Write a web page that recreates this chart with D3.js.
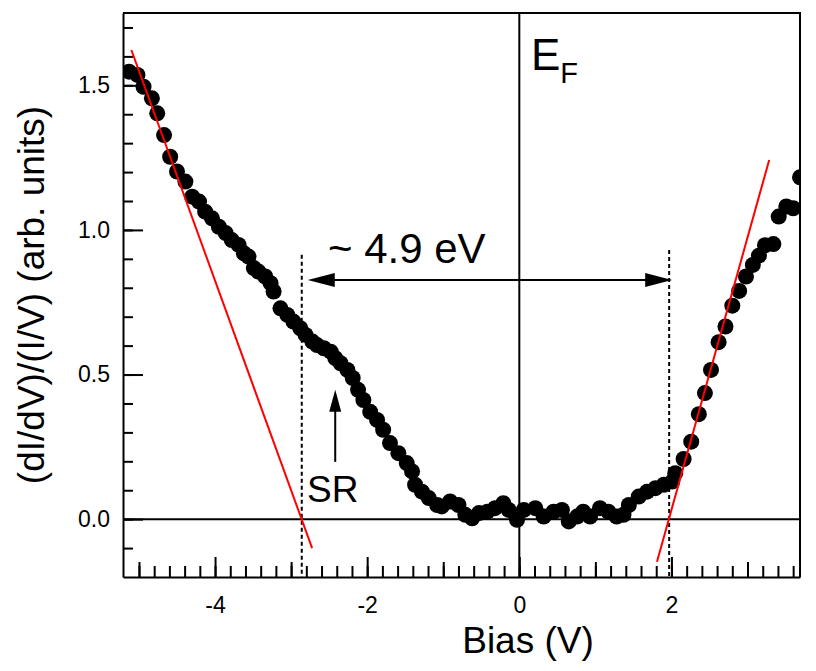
<!DOCTYPE html>
<html>
<head>
<meta charset="utf-8">
<script src="https://cdn.jsdelivr.net/npm/d3@7"></script>
<style>
  body { margin: 0; background: #fff; }
  svg text { font-family: "Liberation Sans", Arial, sans-serif; fill: #000; }
  .axis path { stroke: #000; stroke-width: 2; }
  .axis line { stroke: #000; stroke-width: 2; }
  .axis text { font-size: 23px; }
</style>
</head>
<body>
<div id="chart"></div>
<script>
// measured points, bias (V) and normalized conductance
const biasV = [-5.13, -5.02, -4.94, -4.83, -4.76, -4.67, -4.59, -4.50, -4.39, -4.30,
  -4.21, -4.13, -4.04, -3.95, -3.86, -3.78, -3.69, -3.62, -3.56, -3.49,
  -3.43, -3.34, -3.27, -3.23, -3.14, -3.05, -2.97, -2.88, -2.81, -2.72,
  -2.66, -2.57, -2.48, -2.42, -2.35, -2.26, -2.19, -2.12, -2.05, -1.96,
  -1.87, -1.79, -1.70, -1.59, -1.48, -1.41, -1.37, -1.28, -1.19, -1.08,
  -1.02, -0.91, -0.80, -0.71, -0.62, -0.53, -0.42, -0.32, -0.21, -0.14,
  -0.03, 0.06, 0.21, 0.32, 0.45, 0.56, 0.65, 0.76, 0.84, 0.93,
  1.06, 1.17, 1.28, 1.37, 1.44, 1.57, 1.68, 1.79, 1.90, 2.01,
  2.05, 2.16, 2.26, 2.36, 2.44, 2.52, 2.62, 2.71, 2.80, 2.89,
  2.98, 3.07, 3.15, 3.23, 3.34, 3.41, 3.51, 3.60, 3.69];
const norm = [1.547, 1.536, 1.495, 1.455, 1.403, 1.328, 1.253, 1.202, 1.167, 1.115,
  1.098, 1.063, 1.040, 1.011, 0.989, 0.965, 0.948, 0.919, 0.908, 0.868,
  0.856, 0.839, 0.816, 0.787, 0.729, 0.706, 0.683, 0.660, 0.637, 0.614,
  0.602, 0.591, 0.579, 0.557, 0.539, 0.516, 0.488, 0.447, 0.412, 0.371,
  0.343, 0.309, 0.263, 0.228, 0.194, 0.165, 0.119, 0.095, 0.073, 0.049,
  0.044, 0.061, 0.049, 0.015, 0.003, 0.021, 0.026, 0.038, 0.055, 0.032,
  -0.002, 0.032, 0.038, 0.009, 0.026, 0.032, -0.008, 0.009, 0.026, 0.009,
  0.038, 0.026, 0.009, 0.015, 0.049, 0.078, 0.095, 0.107, 0.119, 0.130,
  0.159, 0.208, 0.268, 0.363, 0.436, 0.516, 0.612, 0.666, 0.738, 0.789,
  0.839, 0.879, 0.911, 0.947, 0.951, 1.046, 1.081, 1.075, 1.182];

// linear fits (red lines), [x1, y1, x2, y2]
const fitLeft = [-5.10, 1.622, -2.724, -0.10];
const fitRight = [1.81, -0.147, 3.285, 1.242];

// band edges (dotted lines) and the SR marker
const edgeLeft = -2.86, edgeRight = 1.97;
const edgeTopLeft = 0.914, edgeTopRight = 0.931;
const gapArrowY = 0.827;
const srX = -2.42, srFrom = 0.198, srTo = 0.447;

const xTicksMajor = [-4, -2, 0, 2];
const xTicksMid = [-5, -3, -1, 1, 3];
const yTicksMajor = [0, 0.5, 1.0, 1.5];

const W = 816, H = 671,
  margin = ({ top: 13, right: 16, bottom: 94, left: 123 });

const svg = d3.select("#chart")
  .append("svg")
  .attr("width", W)
  .attr("height", H)
  .attr("viewBox", [0, 0, W, H]);

const x = d3.scaleLinear()
  .domain([-5.21, 3.69])
  .range([margin.left, W - margin.right]);

const y = d3.scaleLinear()
  .domain([-0.2, 1.75])
  .range([H - margin.bottom, margin.top]);

svg.append("defs").append("clipPath").attr("id", "clip")
  .append("rect")
  .attr("x", margin.left).attr("y", margin.top)
  .attr("width", W - margin.left - margin.right)
  .attr("height", H - margin.top - margin.bottom);

const minorX = d3.range(-50, 37, 2).map(d => d / 10);
const minorY = d3.range(-1, 18).map(d => d / 10);

// x axis, three tick lengths, ticks pointing in
svg.append("g")
  .attr("class", "axis")
  .attr("transform", `translate(0,${H - margin.bottom})`)
  .call(d3.axisBottom(x).tickValues(minorX).tickSize(-11).tickFormat(""))
  .call(g => g.select(".domain").remove());
svg.append("g")
  .attr("class", "axis")
  .attr("transform", `translate(0,${H - margin.bottom})`)
  .call(d3.axisBottom(x).tickValues(xTicksMid).tickSize(-15).tickFormat(""))
  .call(g => g.select(".domain").remove());
svg.append("g")
  .attr("class", "axis")
  .attr("transform", `translate(0,${H - margin.bottom})`)
  .call(d3.axisBottom(x).tickValues(xTicksMajor).tickSize(-20).tickPadding(20).tickFormat(d3.format("d")).tickSizeOuter(0))
  .call(g => g.selectAll("text").text(d => d < 0 ? "-" + Math.abs(d) : d));

// y axis
svg.append("g")
  .attr("class", "axis")
  .attr("transform", `translate(${margin.left},0)`)
  .call(d3.axisLeft(y).tickValues(minorY).tickSize(-10).tickFormat(""))
  .call(g => g.select(".domain").remove());
svg.append("g")
  .attr("class", "axis")
  .attr("transform", `translate(${margin.left},0)`)
  .call(d3.axisLeft(y).tickValues(yTicksMajor).tickSize(-20).tickPadding(13).tickFormat(d3.format(".1f")).tickSizeOuter(0));

// frame: top and right
svg.append("path")
  .attr("d", `M${margin.left},${margin.top}H${W - margin.right}V${H - margin.bottom}`)
  .attr("fill", "none")
  .attr("stroke", "#000")
  .attr("stroke-width", 2);

// zero lines
svg.append("line")
  .attr("x1", x.range()[0]).attr("x2", x.range()[1])
  .attr("y1", y(0)).attr("y2", y(0))
  .attr("stroke", "#000").attr("stroke-width", 2);
svg.append("line")
  .attr("x1", x(0)).attr("x2", x(0))
  .attr("y1", y.range()[0]).attr("y2", y.range()[1])
  .attr("stroke", "#000").attr("stroke-width", 2);

// dotted edges
svg.append("line")
  .attr("x1", x(edgeLeft)).attr("x2", x(edgeLeft))
  .attr("y1", y(edgeTopLeft)).attr("y2", y.range()[0])
  .attr("stroke", "#000").attr("stroke-width", 2).attr("stroke-dasharray", "4,3");
svg.append("line")
  .attr("x1", x(edgeRight)).attr("x2", x(edgeRight))
  .attr("y1", y(edgeTopRight)).attr("y2", y.range()[0])
  .attr("stroke", "#000").attr("stroke-width", 2).attr("stroke-dasharray", "4,3");

// data points
svg.append("g")
  .attr("clip-path", "url(#clip)")
  .selectAll("circle")
  .data(biasV.map((b, i) => ({ b: b, v: norm[i] })))
  .join("circle")
  .attr("cx", d => x(d.b))
  .attr("cy", d => y(d.v))
  .attr("r", 8)
  .attr("fill", "#000");

// red fit lines
svg.append("g")
  .selectAll("line")
  .data([fitLeft, fitRight])
  .join("line")
  .attr("x1", d => x(d[0])).attr("y1", d => y(d[1]))
  .attr("x2", d => x(d[2])).attr("y2", d => y(d[3]))
  .attr("stroke", "#ff0000")
  .attr("stroke-width", 2);

// arrows
function arrowHead(tipX, tipY, dirX, dirY, len, half) {
  const bx = tipX - dirX * len, by = tipY - dirY * len;
  const px = -dirY * half, py = dirX * half;
  return `M${tipX},${tipY}L${bx + px},${by + py}L${bx - px},${by - py}Z`;
}

const ay = y(gapArrowY);
svg.append("line")
  .attr("x1", x(edgeLeft) + 10).attr("x2", x(edgeRight) - 10)
  .attr("y1", ay).attr("y2", ay)
  .attr("stroke", "#000").attr("stroke-width", 2);
svg.append("path").attr("d", arrowHead(x(edgeLeft) + 6, ay, -1, 0, 27, 7)).attr("fill", "#000");
svg.append("path").attr("d", arrowHead(x(edgeRight) + 3, ay, 1, 0, 27, 7)).attr("fill", "#000");

svg.append("line")
  .attr("x1", x(srX)).attr("x2", x(srX))
  .attr("y1", y(srFrom)).attr("y2", y(srTo) + 10)
  .attr("stroke", "#000").attr("stroke-width", 2);
svg.append("path").attr("d", arrowHead(x(srX), y(srTo), 0, -1, 22, 6)).attr("fill", "#000");

// labels
svg.append("text")
  .attr("x", 328).attr("y", 263)
  .style("font-size", "42px")
  .text("~ 4.9 eV");

svg.append("text")
  .attr("x", 307).attr("y", 502)
  .style("font-size", "37px")
  .text("SR");

const ef = svg.append("text")
  .attr("x", 531).attr("y", 70)
  .style("font-size", "44px")
  .text("E");
ef.append("tspan")
  .attr("dy", 13)
  .style("font-size", "29px")
  .text("F");

svg.append("text")
  .attr("x", 528).attr("y", 653)
  .style("text-anchor", "middle")
  .style("font-size", "37px")
  .text("Bias (V)");

svg.append("text")
  .attr("transform", "translate(44,295) rotate(-90)")
  .style("text-anchor", "middle")
  .style("font-size", "37px")
  .text("(dI/dV)/(I/V) (arb. units)");
</script>
</body>
</html>
